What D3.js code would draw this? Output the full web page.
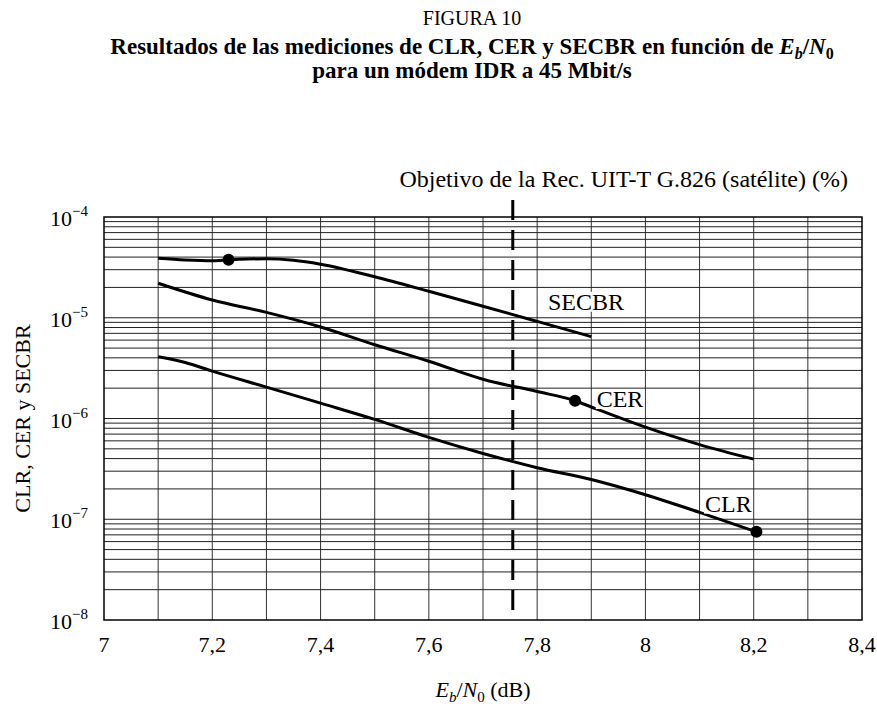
<!DOCTYPE html>
<html>
<head>
<meta charset="utf-8">
<script src="https://cdn.jsdelivr.net/npm/d3@7"></script>
<style>
  body { margin: 0; background: #fff; }
  svg { display: block; }
  text { font-family: "Liberation Serif", "Times New Roman", serif; fill: #000; }
</style>
</head>
<body>
<svg id="chart" width="877" height="709"></svg>
<script>
// Eb/N0 axis ticks and labels (comma decimal separator)
const xTickValues = [7, 7.2, 7.4, 7.6, 7.8, 8, 8.2, 8.4];
const xTickLabels = ["7", "7,2", "7,4", "7,6", "7,8", "8", "8,2", "8,4"];
const yDecadeExponents = [-4, -5, -6, -7, -8];

// SECBR measurements
const secbrEbN0 = [7.1, 7.15, 7.2, 7.25, 7.3, 7.35, 7.4, 7.5, 7.6, 7.7, 7.8, 7.9];
const secbrValues = [3.9e-5, 3.75e-5, 3.68e-5, 3.8e-5, 3.85e-5, 3.72e-5, 3.4e-5, 2.55e-5, 1.83e-5, 1.3e-5, 9.2e-6, 6.5e-6];
// CER measurements
const cerEbN0 = [7.1, 7.2, 7.3, 7.4, 7.5, 7.6, 7.7, 7.8, 7.87, 7.9, 8.0, 8.1, 8.2];
const cerValues = [2.2e-5, 1.5e-5, 1.13e-5, 8.1e-6, 5.4e-6, 3.7e-6, 2.45e-6, 1.85e-6, 1.5e-6, 1.3e-6, 8.2e-7, 5.5e-7, 3.95e-7];
// CLR measurements
const clrEbN0 = [7.1, 7.15, 7.2, 7.3, 7.4, 7.5, 7.6, 7.7, 7.8, 7.9, 8.0, 8.1, 8.205];
const clrValues = [4.1e-6, 3.6e-6, 2.95e-6, 2.05e-6, 1.42e-6, 9.8e-7, 6.5e-7, 4.5e-7, 3.25e-7, 2.48e-7, 1.75e-7, 1.17e-7, 7.5e-8];

// Highlighted points on each curve
const markerEbN0 = [7.23, 7.87, 8.205];
const markerValues = [3.76e-5, 1.5e-6, 7.5e-8];

// Series labels
const seriesNames = ["SECBR", "CER", "CLR"];
const labelEbN0 = [7.82, 7.91, 8.11];
const labelValues = [1.2e-5, 1.3e-6, 1.19e-7];

// ITU-T G.826 objective
const objectiveEbN0 = 7.755;

const svg = d3.select("#chart");
const margin = { left: 104, right: 15, top: 217, bottom: 89 };
const W = 877, H = 709;
const x = d3.scaleLinear().domain([7, 8.4]).range([margin.left, W - margin.right]);
const y = d3.scaleLog().domain([1e-8, 1e-4]).range([H - margin.bottom, margin.top]);

// Title block
const titleX = 472;
svg.append("text").attr("x", titleX).attr("y", 25).attr("text-anchor", "middle")
  .style("font-size", "20px").text("FIGURA 10");
const t1 = svg.append("text").attr("x", titleX).attr("y", 54).attr("text-anchor", "middle")
  .style("font-size", "23px").style("font-weight", "bold");
t1.append("tspan").text("Resultados de las mediciones de CLR, CER y SECBR en función de ");
t1.append("tspan").style("font-style", "italic").text("E");
t1.append("tspan").style("font-style", "italic").style("font-size", "16px").attr("dy", 5).text("b");
t1.append("tspan").attr("dy", -5).text("/");
t1.append("tspan").style("font-style", "italic").text("N");
t1.append("tspan").style("font-size", "16px").attr("dy", 5).text("0");
svg.append("text").attr("x", titleX).attr("y", 78).attr("text-anchor", "middle")
  .style("font-size", "23px").style("font-weight", "bold")
  .text("para un módem IDR a 45 Mbit/s");

const plot = svg.append("g");

// Vertical grid every 0.1 dB
const xGrid = d3.range(71, 84).map(d => d / 10);
plot.selectAll(".vgrid").data(xGrid).join("line")
  .attr("x1", d => x(d)).attr("x2", d => x(d))
  .attr("y1", y(1e-4)).attr("y2", y(1e-8))
  .attr("stroke", "#333").attr("stroke-width", 1);

// Horizontal log grid (1..9 per decade)
const yGrid = [];
for (let e = -8; e < -4; e++) {
  for (let m = 1; m <= 9; m++) {
    if (!(m === 1 && e === -8)) yGrid.push(m * Math.pow(10, e));
  }
}
plot.selectAll(".hgrid").data(yGrid).join("line")
  .attr("x1", x(7)).attr("x2", x(8.4))
  .attr("y1", d => y(d)).attr("y2", d => y(d))
  .attr("stroke", "#222").attr("stroke-width", 1);

// Frame
plot.append("rect")
  .attr("x", x(7)).attr("y", y(1e-4))
  .attr("width", x(8.4) - x(7)).attr("height", y(1e-8) - y(1e-4))
  .attr("fill", "none").attr("stroke", "#000").attr("stroke-width", 1.5);

// X tick labels
svg.selectAll(".xlab").data(xTickValues).join("text")
  .attr("x", d => x(d)).attr("y", y(1e-8) + 32)
  .attr("text-anchor", "middle").style("font-size", "22px")
  .text((d, i) => xTickLabels[i]);

// Y tick labels as powers of ten
const yl = svg.selectAll(".ylab").data(yDecadeExponents).join("text")
  .attr("x", 88).attr("y", d => y(Math.pow(10, d)) + 9)
  .attr("text-anchor", "end").style("font-size", "22px");
yl.append("tspan").text("10");
yl.append("tspan").attr("dy", -10).style("font-size", "15px").text(d => "\u2212" + Math.abs(d));

// Axis titles
svg.append("text")
  .attr("transform", `translate(30,${(y(1e-4) + y(1e-8)) / 2}) rotate(-90)`)
  .attr("text-anchor", "middle").style("font-size", "22px")
  .text("CLR, CER y SECBR");
const xt = svg.append("text").attr("x", (x(7) + x(8.4)) / 2).attr("y", 697)
  .attr("text-anchor", "middle").style("font-size", "22px");
xt.append("tspan").style("font-style", "italic").text("E");
xt.append("tspan").style("font-style", "italic").style("font-size", "15px").attr("dy", 5).text("b");
xt.append("tspan").attr("dy", -5).text("/");
xt.append("tspan").style("font-style", "italic").text("N");
xt.append("tspan").style("font-size", "15px").attr("dy", 5).text("0");
xt.append("tspan").attr("dy", -5).text(" (dB)");

// Objective line
plot.append("line")
  .attr("x1", x(objectiveEbN0)).attr("x2", x(objectiveEbN0))
  .attr("y1", y(1e-4) - 17).attr("y2", y(1e-8))
  .attr("stroke", "#000").attr("stroke-width", 3)
  .attr("stroke-dasharray", "20,10");
svg.append("text").attr("x", 848).attr("y", 187).attr("text-anchor", "end")
  .style("font-size", "24px")
  .text("Objetivo de la Rec. UIT-T G.826 (satélite) (%)");

// Curves
const line = d3.line().x(d => x(d[0])).y(d => y(d[1])).curve(d3.curveMonotoneX);
const series = [
  d3.zip(secbrEbN0, secbrValues),
  d3.zip(cerEbN0, cerValues),
  d3.zip(clrEbN0, clrValues)
];
plot.selectAll(".curve").data(series).join("path")
  .attr("d", line).attr("fill", "none")
  .attr("stroke", "#000").attr("stroke-width", 3)
  .attr("stroke-linejoin", "round");

// Markers
plot.selectAll(".mk").data(d3.zip(markerEbN0, markerValues)).join("circle")
  .attr("cx", d => x(d[0])).attr("cy", d => y(d[1])).attr("r", 6)
  .attr("fill", "#000");

// Series labels on white boxes that mask the grid
const labels = svg.append("g");
d3.zip(labelEbN0, labelValues, seriesNames).forEach(d => {
  const g = labels.append("g");
  const bg = g.append("rect").attr("fill", "#fff");
  const t = g.append("text").attr("x", x(d[0])).attr("y", y(d[1]))
    .style("font-size", "24px").text(d[2]);
  const b = t.node().getBBox();
  bg.attr("x", b.x - 1).attr("y", b.y + 3).attr("width", b.width + 2).attr("height", b.height - 6);
});
</script>
</body>
</html>
